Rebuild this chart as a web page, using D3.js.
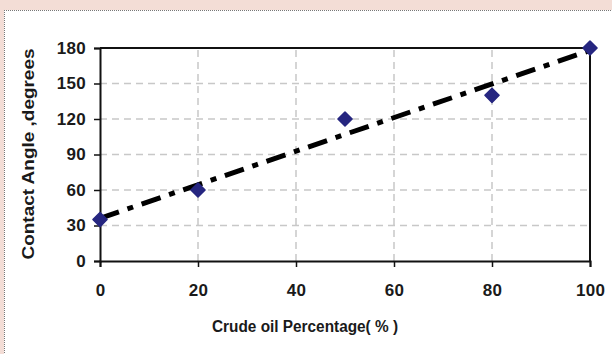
<!DOCTYPE html>
<html>
<head>
<meta charset="utf-8">
<script src="https://cdn.jsdelivr.net/npm/d3@7"></script>
<style>
  html, body { margin: 0; padding: 0; background: #fff; }
  svg { display: block; font-family: "Liberation Sans", Arial, sans-serif; }
</style>
</head>
<body>
<svg id="chart" width="612" height="354"></svg>
<script>
// Measured contact angle against crude oil content
const crudePercent = [0, 20, 50, 80, 100];
const contactAngle = [35, 60, 120, 140, 180];
const xTicks = [0, 20, 40, 60, 80, 100];
const yTicks = [0, 30, 60, 90, 120, 150, 180];

const svg = d3.select("#chart");
const W = 612, H = 354;
const margin = { left: 100, right: 22, top: 48, bottom: 93 };

// Frame: pale band across the top and left edge, dotted border
svg.append("rect").attr("width", W).attr("height", H).attr("fill", "#f3ddd6");
svg.append("rect").attr("x", 4).attr("y", 10).attr("width", W - 4).attr("height", H - 10).attr("fill", "#fff");
svg.append("line").attr("x1", 4).attr("x2", W).attr("y1", 10.5).attr("y2", 10.5)
  .attr("stroke", "#777").attr("stroke-width", 1).attr("stroke-dasharray", "1,1");
svg.append("line").attr("x1", 4.5).attr("x2", 4.5).attr("y1", 10).attr("y2", H)
  .attr("stroke", "#777").attr("stroke-width", 1).attr("stroke-dasharray", "1,1");

const x = d3.scaleLinear().domain([0, 100]).range([margin.left, W - margin.right]);
const y = d3.scaleLinear().domain([0, 180]).range([H - margin.bottom, margin.top]);

// Grid
const grid = svg.append("g").attr("stroke", "#c8c8c8").attr("stroke-width", 1.5).attr("stroke-dasharray", "7,5");
grid.selectAll(".gx").data(xTicks.slice(1, -1)).join("line")
  .attr("x1", d => x(d)).attr("x2", d => x(d))
  .attr("y1", y(0)).attr("y2", y(180));
grid.selectAll(".gy").data(yTicks.slice(1, -1)).join("line")
  .attr("x1", x(0)).attr("x2", x(100))
  .attr("y1", d => y(d)).attr("y2", d => y(d));

// Plot border on top and right
svg.append("path")
  .attr("d", `M${x(0)},${y(180)}H${x(100)}V${y(0)}`)
  .attr("fill", "none").attr("stroke", "#111").attr("stroke-width", 2);

// Axes
const xAxis = svg.append("g").attr("transform", `translate(0,${y(0)})`)
  .call(d3.axisBottom(x).tickValues(xTicks).tickSize(6).tickPadding(17).tickFormat(d3.format("d")));
const yAxis = svg.append("g").attr("transform", `translate(${x(0)},0)`)
  .call(d3.axisLeft(y).tickValues(yTicks).tickSize(6).tickPadding(8).tickFormat(d3.format("d")));
[xAxis, yAxis].forEach(a => {
  a.select(".domain").attr("stroke", "#111").attr("stroke-width", 2);
  a.selectAll(".tick line").attr("stroke", "#111").attr("stroke-width", 1.5);
  a.selectAll(".tick text").attr("fill", "#1a1a1a").attr("font-size", 17)
    .attr("font-weight", "bold").attr("letter-spacing", 0.3)
    .attr("font-family", "'Liberation Sans', Arial, sans-serif");
});

// Least-squares trend line through the measurements
const mx = d3.mean(crudePercent), my = d3.mean(contactAngle);
const slope = d3.sum(crudePercent, (v, i) => (v - mx) * (contactAngle[i] - my)) /
              d3.sum(crudePercent, v => (v - mx) * (v - mx));
const intercept = my - slope * mx;
svg.append("line")
  .attr("x1", x(0)).attr("y1", y(intercept))
  .attr("x2", x(100)).attr("y2", y(intercept + slope * 100))
  .attr("stroke", "#000").attr("stroke-width", 5)
  .attr("stroke-dasharray", "20,9,6,9");

// Markers
svg.selectAll(".pt").data(crudePercent).join("path")
  .attr("d", d3.symbol().type(d3.symbolSquare).size(100))
  .attr("transform", (d, i) => `translate(${x(d)},${y(contactAngle[i])}) rotate(45)`)
  .attr("fill", "#262680")
  .attr("stroke", "#262680").attr("stroke-width", 1.5).attr("stroke-linejoin", "round");

// Axis titles
svg.append("text").attr("x", 305).attr("y", 332).attr("text-anchor", "middle")
  .attr("font-size", 16).attr("font-weight", "bold").attr("fill", "#1a1a1a")
  .attr("textLength", 186).attr("lengthAdjust", "spacingAndGlyphs")
  .text("Crude oil Percentage( % )");
svg.append("text").attr("transform", `translate(34,154) rotate(-90)`).attr("text-anchor", "middle")
  .attr("font-size", 16).attr("font-weight", "bold").attr("fill", "#1a1a1a")
  .attr("textLength", 211).attr("lengthAdjust", "spacingAndGlyphs")
  .text("Contact Angle ,degrees");
</script>
</body>
</html>
